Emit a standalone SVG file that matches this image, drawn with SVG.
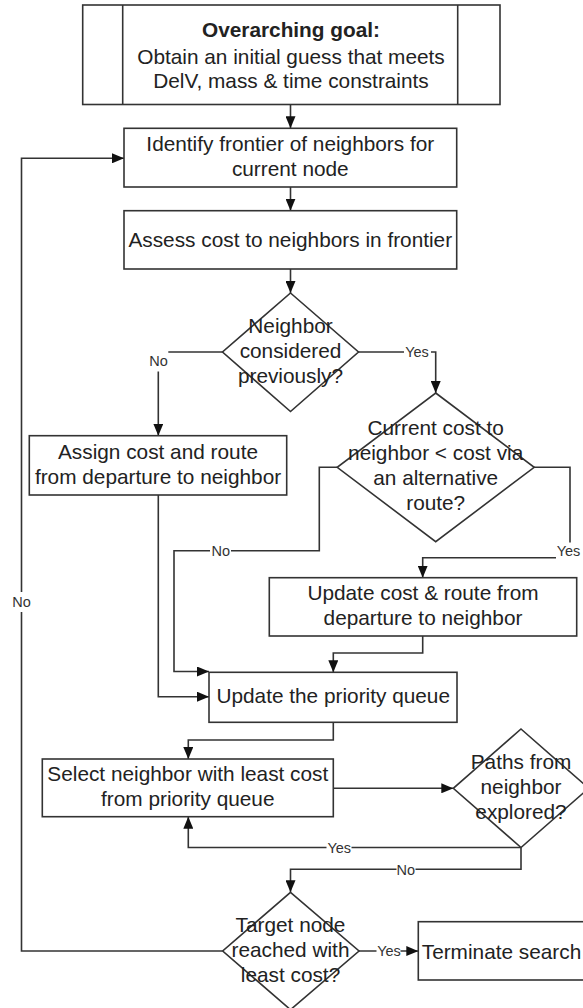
<svg xmlns="http://www.w3.org/2000/svg" width="583" height="1008" viewBox="0 0 583 1008">
<style>
.box{fill:#fff;stroke:#333;stroke-width:1.6}
.t{font-family:"Liberation Sans",Arial,sans-serif;font-size:20.8px;fill:#222;text-anchor:middle}
.b{font-weight:bold}
.c{fill:none;stroke:#333;stroke-width:1.6}
.lb{fill:#fff;stroke:none}
.l{font-family:"Liberation Sans",Arial,sans-serif;font-size:14.5px;fill:#333;text-anchor:middle}
</style>
<defs>
<marker id="ah" markerUnits="userSpaceOnUse" markerWidth="12" markerHeight="10" refX="12" refY="5" orient="auto">
<path d="M0,0 L12,5 L0,10 z" fill="#111"/>
</marker>
</defs>
<rect width="583" height="1008" fill="#fff"/>
<g id="connectors">
<path class="c" d="M290.5,104.5 V128.3" marker-end="url(#ah)"/>
<path class="c" d="M290.5,187 V210.7" marker-end="url(#ah)"/>
<path class="c" d="M290.5,269 V293" marker-end="url(#ah)"/>
<path class="c" d="M222.7,352 H158.3 V435.7" marker-end="url(#ah)"/>
<path class="c" d="M358,352 H435.7 V393" marker-end="url(#ah)"/>
<path class="c" d="M158.3,495 V696.7 H209" marker-end="url(#ah)"/>
<path class="c" d="M337,467.3 H319.3 V550.7 H174 V671.5 H209" marker-end="url(#ah)"/>
<path class="c" d="M534,467.3 H570 V557.7 H422.7 V577.7" marker-end="url(#ah)"/>
<path class="c" d="M422.7,636 V653 H333.3 V672.3" marker-end="url(#ah)"/>
<path class="c" d="M333.3,722.3 V740 H188.3 V759" marker-end="url(#ah)"/>
<path class="c" d="M333.3,788.3 H453.3" marker-end="url(#ah)"/>
<path class="c" d="M521,847.5 H188.3 V816.7" marker-end="url(#ah)"/>
<path class="c" d="M521,847.5 V869.3 H290.5 V892.3" marker-end="url(#ah)"/>
<path class="c" d="M359,951 H418.3" marker-end="url(#ah)"/>
<path class="c" d="M222.7,951 H21.5 V158.3 H124" marker-end="url(#ah)"/>
<rect class="lb" x="148.3" y="350.5" width="20" height="21"/>
<text class="l" x="158.5" y="366">No</text>
<rect class="lb" x="404" y="343" width="27" height="18"/>
<text class="l" x="417" y="357.2">Yes</text>
<rect class="lb" x="210" y="542" width="21" height="18"/>
<text class="l" x="220.7" y="556">No</text>
<rect class="lb" x="556" y="542.5" width="27" height="17"/>
<text class="l" x="568.5" y="556.3">Yes</text>
<rect class="lb" x="326.5" y="839" width="25" height="18"/>
<text class="l" x="339.3" y="853">Yes</text>
<rect class="lb" x="396.5" y="861" width="19" height="18"/>
<text class="l" x="405.7" y="874.6">No</text>
<rect class="lb" x="376.5" y="942" width="24" height="18"/>
<text class="l" x="389" y="956.3">Yes</text>
<rect class="lb" x="12" y="592" width="19" height="20"/>
<text class="l" x="21.5" y="607">No</text>
</g>
<g id="goal">
<rect class="box" x="82.7" y="5" width="417.3" height="99.5"/>
<line class="c" x1="122.7" y1="5" x2="122.7" y2="104.5"/>
<line class="c" x1="457.7" y1="5" x2="457.7" y2="104.5"/>
<text class="t b" x="291" y="37">Overarching goal:</text>
<text class="t" x="291" y="64">Obtain an initial guess that meets</text>
<text class="t" x="291" y="88">DelV, mass &amp; time constraints</text>
</g>
<g id="identify">
<rect class="box" x="124" y="128.3" width="332.7" height="58.7"/>
<text class="t" x="290.3" y="150.5">Identify frontier of neighbors for</text>
<text class="t" x="290.3" y="175.5">current node</text>
</g>
<g id="assess">
<rect class="box" x="124" y="210.7" width="332.7" height="58.3"/>
<text class="t" x="290.3" y="247.3">Assess cost to neighbors in frontier</text>
</g>
<g id="considered">
<path class="box" d="M290.5,293 L358.5,352 L290.5,411.5 L222.5,352 Z"/>
<text class="t" x="290.5" y="333.2">Neighbor</text>
<text class="t" x="290.5" y="358.2">considered</text>
<text class="t" x="290.5" y="383.2">previously?</text>
</g>
<g id="assign">
<rect class="box" x="29.3" y="435.7" width="257.4" height="59.3"/>
<text class="t" x="158" y="458.5">Assign cost and route</text>
<text class="t" x="158" y="483.5">from departure to neighbor</text>
</g>
<g id="cheaper">
<path class="box" d="M435.7,393 L534.2,467.3 L435.7,541.7 L337.2,467.3 Z"/>
<text class="t" x="435.7" y="434.7">Current cost to</text>
<text class="t" x="435.7" y="459.7">neighbor &lt; cost via</text>
<text class="t" x="435.7" y="484.7">an alternative</text>
<text class="t" x="435.7" y="509.7">route?</text>
</g>
<g id="updatecost">
<rect class="box" x="269.3" y="577.7" width="307.4" height="58.3"/>
<text class="t" x="423" y="599.8">Update cost &amp; route from</text>
<text class="t" x="423" y="624.5">departure to neighbor</text>
</g>
<g id="queue">
<rect class="box" x="209" y="672.3" width="248" height="50"/>
<text class="t" x="333.2" y="702.8">Update the priority queue</text>
</g>
<g id="select">
<rect class="box" x="42.3" y="759" width="291" height="57.7"/>
<text class="t" x="187.8" y="780.7">Select neighbor with least cost</text>
<text class="t" x="187.8" y="805.8">from priority queue</text>
</g>
<g id="explored">
<path class="box" d="M521,729 L588.7,788.3 L521,847.5 L453.3,788.3 Z"/>
<text class="t" x="521" y="768.5">Paths from</text>
<text class="t" x="521" y="794">neighbor</text>
<text class="t" x="521" y="818.5">explored?</text>
</g>
<g id="target">
<path class="box" d="M290.5,892.3 L359,951 L290.5,1009.7 L222.7,951 Z"/>
<text class="t" x="290.5" y="931.5">Target node</text>
<text class="t" x="290.5" y="956.5">reached with</text>
<text class="t" x="290.5" y="981.5">least cost?</text>
</g>
<g id="terminate">
<rect class="box" x="418.3" y="921.7" width="177" height="58.3"/>
<text class="t" x="501.5" y="958.5">Terminate search</text>
</g>
</svg>
